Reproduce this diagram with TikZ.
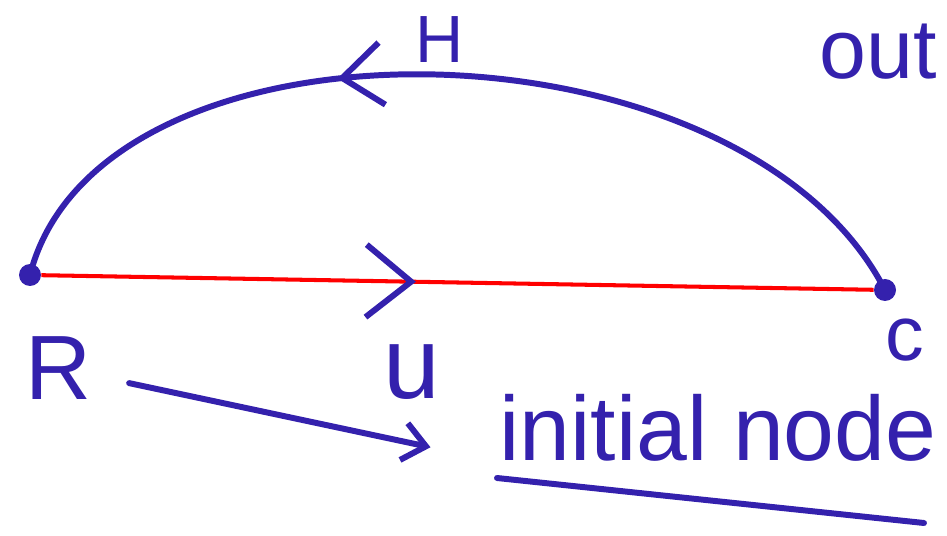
\documentclass[tikz,border=0pt]{standalone}
\usepackage{fontspec}
\setmainfont{Liberation Sans}
\usetikzlibrary{arrows.meta, positioning, decorations.markings}
\definecolor{ink}{RGB}{52,33,173}

\begin{document}
\begin{tikzpicture}[
    x=0.02cm, y=-0.02cm,
    >=Stealth,
    dot/.style={circle, fill=ink, inner sep=0pt, minimum size=0.44cm},
    lbl/.style={text=ink, inner sep=0pt},
    inkline/.style={draw=ink, line width=3.4pt, line cap=round},
    bigchev/.tip={Straight Barb[length=0.9cm, width=1.45cm, color=ink, line width=3.4pt]},
    midchev/.tip={Straight Barb[length=0.8cm, width=1.25cm, color=ink, line width=3.4pt]},
    smallchev/.tip={Straight Barb[length=0.45cm, width=0.75cm, color=ink, line width=3.4pt]}
  ]
  \useasboundingbox (0,0) rectangle (947,536);

  \node[dot] (R) at (30,275) {};
  \node[dot] (C) at (885,290) {};

  \node[lbl, font=\fontsize{52}{56}\selectfont] (Rlab) at (58,368) {R};
  \node[lbl, font=\fontsize{58}{62}\selectfont] (ulab) at (412,372) {u};
  \node[lbl, font=\fontsize{44}{48}\selectfont] (clab) at (905,340) {c};
  \node[lbl, font=\fontsize{38}{42}\selectfont] (hlab) at (440,40) {H};
  \node[lbl, font=\fontsize{48}{52}\selectfont] (outlab) at (878,52) {out};
  \node[lbl, font=\fontsize{52}{56}\selectfont] (init) at (718,428) {initial node};

  \draw[red, line width=2.3pt, postaction={decorate},
        decoration={markings, mark=at position 0.45 with {\arrow{bigchev}}}]
    (R) -- (C);
  \draw[inkline, postaction={decorate},
        decoration={markings, mark=at position 0.615 with {\arrow{midchev}}}]
    (C.center) .. controls (740,10) and (100,0) .. (R.center);
  \draw[inkline, -smallchev, shorten <=22pt, shorten >=40pt] (Rlab) -- (init.south west);

  \coordinate (ul-a) at (497,478);
  \coordinate (ul-b) at (924,523);
  \draw[inkline] (ul-a) -- (ul-b);
\end{tikzpicture}
\end{document}
